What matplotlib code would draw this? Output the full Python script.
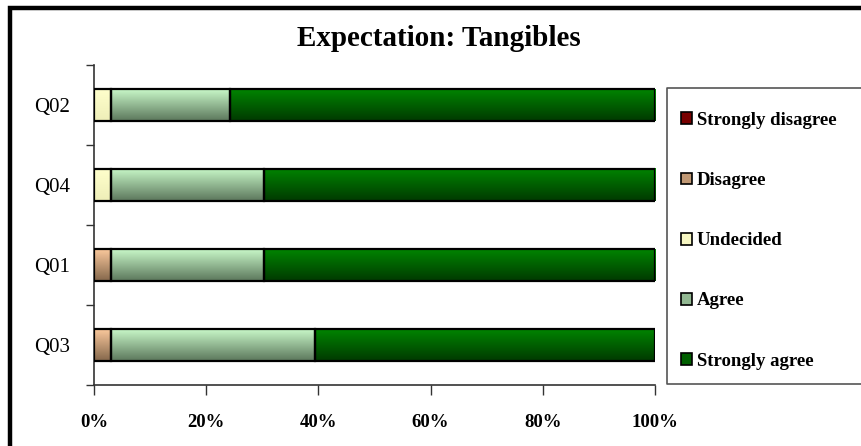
import numpy as np
import matplotlib
matplotlib.use("Agg")
import matplotlib.pyplot as plt
from matplotlib.lines import Line2D
from matplotlib.patches import Patch

plt.rcParams["font.family"] = ["Liberation Serif", "DejaVu Serif"]

# questions, bottom to top
questions = ["Q03", "Q01", "Q04", "Q02"]

# share of answers per question (%)
strongly_disagree = [0.0, 0.0, 0.0, 0.0]
disagree = [3.0, 3.0, 0.0, 0.0]
undecided = [0.0, 0.0, 3.0, 3.0]
agree = [36.4, 27.3, 27.3, 21.2]
strongly_agree = [60.6, 69.7, 69.7, 75.8]

categories = ["Strongly disagree", "Disagree", "Undecided", "Agree", "Strongly agree"]
series = [strongly_disagree, disagree, undecided, agree, strongly_agree]

# (top colour, bottom colour) for the vertical shading of each segment
shades = [
    ("#a00000", "#500000"),
    ("#fac89c", "#85684c"),
    ("#ffffcc", "#eeeeb8"),
    ("#c8f8c8", "#5c775c"),
    ("#008400", "#003a00"),
]


def hex2rgb(c):
    return np.array(matplotlib.colors.to_rgb(c))


def shade_patch(ax, patch, top, bottom):
    x0, y0 = patch.get_x(), patch.get_y()
    w, h = patch.get_width(), patch.get_height()
    t = np.linspace(0, 1, 64)[:, None, None]
    img = hex2rgb(top)[None, None, :] * (1 - t) + hex2rgb(bottom)[None, None, :] * t
    ax.imshow(img, extent=(x0, x0 + w, y0, y0 + h), origin="upper",
              aspect="auto", interpolation="bilinear", zorder=2)


fig = plt.figure(figsize=(8.61, 4.46), dpi=100)
ax = fig.add_axes([94 / 861, 61 / 446, 561 / 861, 320 / 446])

y = np.arange(len(questions))
left = np.zeros(len(questions))
for vals, (top, bottom) in zip(series, shades):
    vals = np.array(vals)
    bars = ax.barh(y, vals, left=left, height=0.4, facecolor="none",
                   edgecolor="black", linewidth=[1.6 if v > 0 else 0 for v in vals],
                   zorder=3)
    for b, v in zip(bars, vals):
        if v > 0:
            shade_patch(ax, b, top, bottom)
    left += vals

ax.set_xlim(0, 100)
ax.set_ylim(-0.5, 3.5)

ax.set_xticks(np.arange(0, 101, 20))
ax.set_xticklabels([f"{v}%" for v in range(0, 101, 20)], fontsize=13.5, fontweight="bold")
ax.tick_params(axis="x", length=7, width=1, pad=14, color="#333333")

ax.set_yticks(y)
ax.set_yticklabels(questions, fontsize=15)
ax.tick_params(axis="y", which="major", length=0, pad=17)
ax.set_yticks(np.arange(-0.5, 4, 1), minor=True)
ax.tick_params(axis="y", which="minor", length=6, width=1, color="#333333")

for s in ["top", "right"]:
    ax.spines[s].set_visible(False)
for s in ["left", "bottom"]:
    ax.spines[s].set_color("#333333")
    ax.spines[s].set_linewidth(1.2)

fig.text(439 / 861, 1 - 38 / 446, "Expectation: Tangibles", ha="center", va="center",
         fontsize=21, fontweight="bold")

# legend frame runs off the right edge, so only three sides are drawn
lx, ly0, ly1 = 667 / 861, 62 / 446, 358 / 446
fig.lines.append(Line2D([1.0, lx, lx, 1.0], [ly1, ly1, ly0, ly0],
                        transform=fig.transFigure, color="#555555", linewidth=1.2))

handles = [Patch(facecolor=matplotlib.colors.to_hex((hex2rgb(t) + hex2rgb(b)) / 2),
                 edgecolor="black", linewidth=1.2) for t, b in shades]
fig.legend(handles, categories, loc="upper left",
           bbox_to_anchor=(681 / 861, 1 - 112 / 446), frameon=False,
           prop={"weight": "bold", "size": 13.5}, handlelength=0.6, handleheight=0.6,
           handletextpad=0.25, labelspacing=2.3, borderpad=0, borderaxespad=0)

# outer chart border: only the left and top edges fall inside the image
fig.lines.append(Line2D([10 / 861, 10 / 861, 1.0], [0.0, 1 - 7.5 / 446, 1 - 7.5 / 446],
                        transform=fig.transFigure, color="black", linewidth=3.2,
                        solid_joinstyle="miter"))

fig.savefig("out.png", dpi=100)
